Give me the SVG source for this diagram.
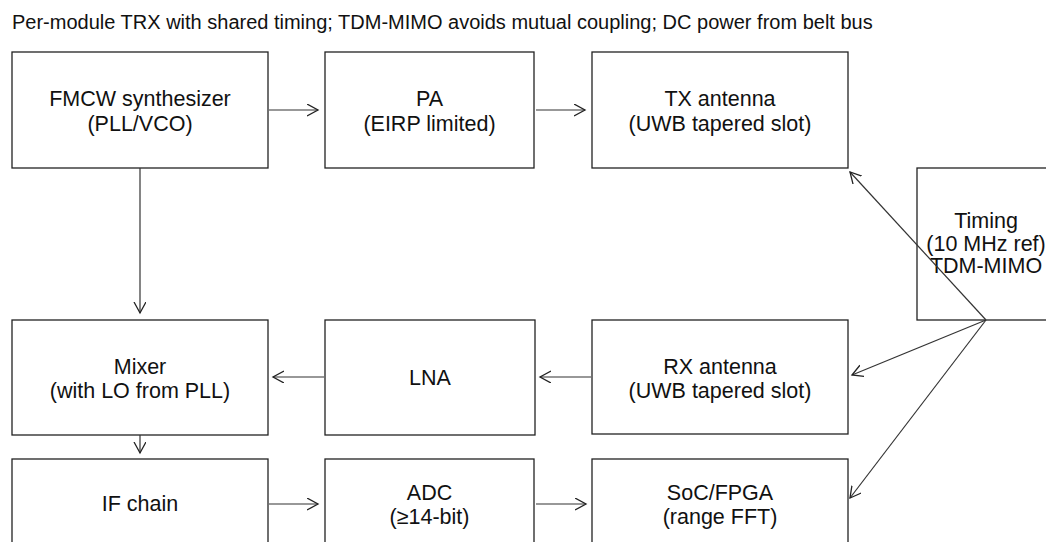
<svg xmlns="http://www.w3.org/2000/svg" width="1046" height="542" viewBox="0 0 1046 542">
<style>
.box{fill:#fff;stroke:#222;stroke-width:1.3}
.t{font-family:"Liberation Sans",Arial,sans-serif;font-size:21.5px;fill:#111;text-anchor:middle}
.title{font-family:"Liberation Sans",Arial,sans-serif;font-size:20px;fill:#111}
.c{stroke:#333;stroke-width:1.2;fill:none;marker-end:url(#ah)}
</style>
<defs>
<marker id="ah" markerUnits="userSpaceOnUse" markerWidth="14" markerHeight="14" refX="11" refY="6" orient="auto">
<path d="M0,0 L11,6 L0,12" fill="none" stroke="#222" stroke-width="1.3"/>
</marker>
</defs>
<rect width="1046" height="542" fill="#fff"/>
<text class="title" x="12" y="29">Per-module TRX with shared timing; TDM-MIMO avoids mutual coupling; DC power from belt bus</text>
<g id="fmcw"><rect class="box" x="12" y="52" width="256" height="116"/><text class="t" x="140" y="106">FMCW synthesizer</text><text class="t" x="140" y="130.5">(PLL/VCO)</text></g>
<g id="pa"><rect class="box" x="325" y="52" width="209" height="116"/><text class="t" x="429.5" y="106">PA</text><text class="t" x="429.5" y="130.5">(EIRP limited)</text></g>
<g id="tx"><rect class="box" x="592" y="52" width="256" height="116"/><text class="t" x="720" y="106">TX antenna</text><text class="t" x="720" y="130.5">(UWB tapered slot)</text></g>
<g id="timing"><rect class="box" x="917" y="168" width="138" height="152"/><text class="t" x="986" y="228">Timing</text><text class="t" x="986" y="250.5">(10 MHz ref)</text><text class="t" x="986" y="272.5">TDM-MIMO</text></g>
<g id="mixer"><rect class="box" x="12" y="320" width="256" height="115"/><text class="t" x="140" y="373.5">Mixer</text><text class="t" x="140" y="398">(with LO from PLL)</text></g>
<g id="lna"><rect class="box" x="325" y="320" width="210" height="115"/><text class="t" x="430" y="384.5">LNA</text></g>
<g id="rx"><rect class="box" x="592" y="320" width="256" height="114"/><text class="t" x="720" y="373.5">RX antenna</text><text class="t" x="720" y="398">(UWB tapered slot)</text></g>
<g id="ifchain"><rect class="box" x="12" y="459" width="256" height="90"/><text class="t" x="140" y="511">IF chain</text></g>
<g id="adc"><rect class="box" x="325" y="459" width="209" height="90"/><text class="t" x="429.5" y="499.5">ADC</text><text class="t" x="429.5" y="524">(≥14-bit)</text></g>
<g id="soc"><rect class="box" x="592" y="459" width="256" height="90"/><text class="t" x="720" y="499.5">SoC/FPGA</text><text class="t" x="720" y="524">(range FFT)</text></g>
<g id="connectors">
<line class="c" x1="269" y1="110" x2="318" y2="110"/>
<line class="c" x1="536" y1="110" x2="585" y2="110"/>
<line class="c" x1="140" y1="168" x2="140" y2="313"/>
<line class="c" x1="324" y1="377" x2="273" y2="377"/>
<line class="c" x1="591" y1="377" x2="540" y2="377"/>
<line class="c" x1="140" y1="435" x2="140" y2="453"/>
<line class="c" x1="269" y1="504" x2="318" y2="504"/>
<line class="c" x1="536" y1="504" x2="586" y2="504"/>
<line class="c" x1="986" y1="320" x2="850" y2="172"/>
<line class="c" x1="986" y1="320" x2="852" y2="375"/>
<line class="c" x1="986" y1="320" x2="850" y2="498"/>
</g>
</svg>
